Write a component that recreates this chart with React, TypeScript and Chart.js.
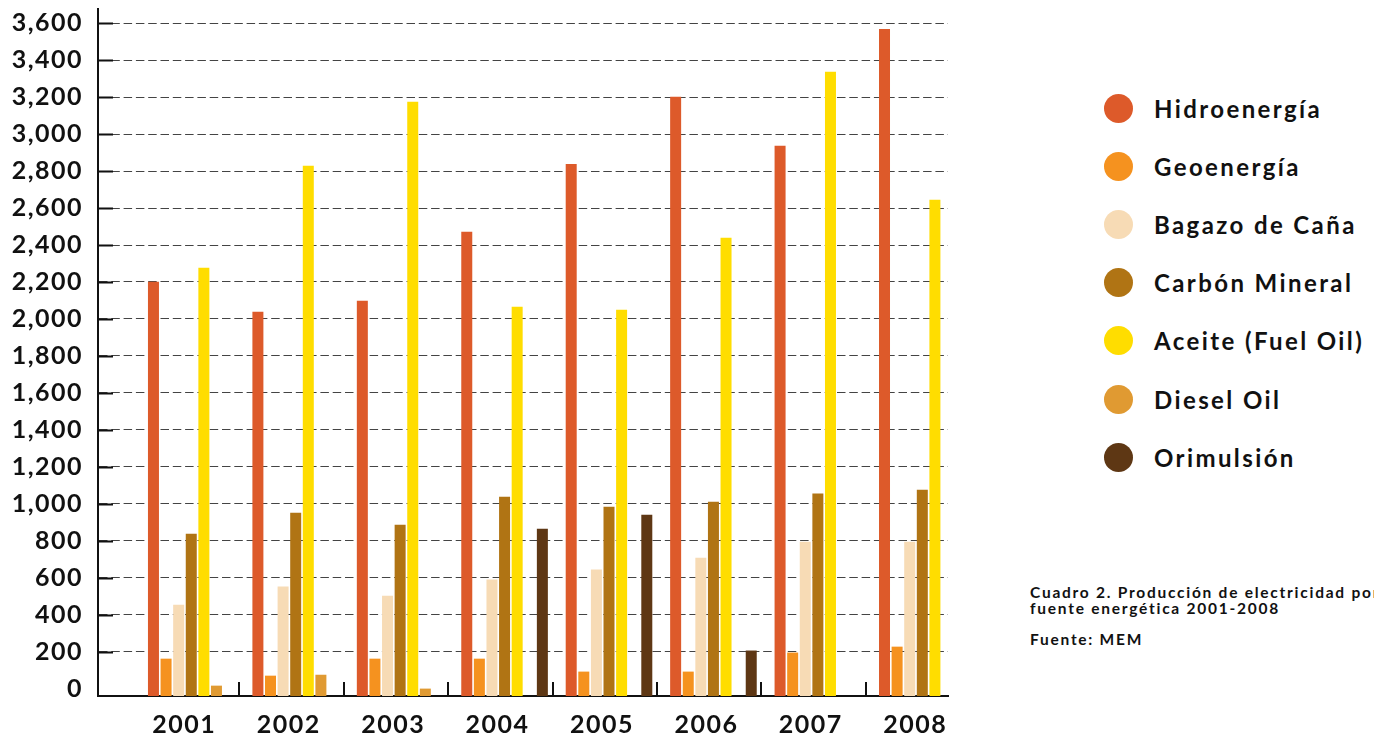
import React, { useEffect, useRef } from 'react';
import { Chart, registerables } from 'chart.js';

Chart.register(...registerables);

const years = [2001, 2002, 2003, 2004, 2005, 2006, 2007, 2008];

const seriesNames = [
  'Hidroenergía',
  'Geoenergía',
  'Bagazo de Caña',
  'Carbón Mineral',
  'Aceite (Fuel Oil)',
  'Diesel Oil',
  'Orimulsión',
];

const seriesColors = ['#DD5A2A', '#F5921F', '#F7DBB5', '#B07414', '#FFDD00', '#E09A32', '#5E3714'];

const hidroenergia = [2201, 2039, 2098, 2472, 2839, 3202, 2937, 3569];
const geoenergia = [162, 70, 162, 162, 92, 92, 195, 227];
const bagazo = [454, 552, 503, 590, 644, 708, 795, 795];
const carbon = [838, 952, 887, 1038, 984, 1011, 1055, 1076];
const aceite = [2277, 2829, 3175, 2066, 2050, 2439, 3337, 2645];
const diesel = [16, 75, 0, null, null, null, null, null];
const orimulsion = [null, null, null, 865, 941, 206, null, null];

const yTicks = [0, 200, 400, 600, 800, 1000, 1200, 1400, 1600, 1800, 2000, 2200, 2400, 2600, 2800, 3000, 3200, 3400, 3600];

const captionLines = ['Cuadro 2. Producción de electricidad por', 'fuente energética 2001-2008'];
const sourceText = 'Fuente: MEM';

const Y_MIN = -40;
const Y_MAX = 3677;
const X_MIN = 2000.107;
const X_MAX = 2008.246;

export default function App() {
  const canvasRef = useRef<HTMLCanvasElement | null>(null);

  useEffect(() => {
    if (!canvasRef.current) return;
    const seriesValues = [hidroenergia, geoenergia, bagazo, carbon, aceite, diesel, orimulsion];
    const datasets = seriesNames.map((name, k) => ({
      label: name,
      data: years.map((yr, i) => ({ x: yr, y: seriesValues[k][i] })),
      backgroundColor: seriesColors[k],
      borderWidth: 0,
      base: Y_MIN,
      barPercentage: 0.873,
      categoryPercentage: 0.8445,
    }));

    const spacing = {
      id: 'letterSpacing',
      beforeDraw(chart: any) {
        chart.ctx.letterSpacing = '1.5px';
      },
    };

    const tickMarks = {
      id: 'tickMarks',
      afterDatasetsDraw(chart: any) {
        const { ctx, chartArea, scales } = chart;
        ctx.save();
        ctx.strokeStyle = '#111';
        ctx.lineWidth = 2;
        ctx.beginPath();
        yTicks.forEach((v) => {
          if (v <= 0) return;
          const y = Math.round(scales.y.getPixelForValue(v)) + 0.5;
          ctx.moveTo(chartArea.left, y);
          ctx.lineTo(chartArea.left + 15, y);
        });
        years.slice(0, -1).forEach((yr) => {
          const x = Math.round(scales.x.getPixelForValue(yr + 0.46));
          ctx.moveTo(x, chartArea.bottom);
          ctx.lineTo(x, chartArea.bottom - 14);
        });
        ctx.stroke();
        ctx.restore();
      },
    };

    const tickFont = { family: 'Lato', size: 25, weight: 'bold' as any };

    const chart = new Chart(canvasRef.current, {
      type: 'bar',
      data: { datasets: datasets as any },
      options: {
        animation: false,
        responsive: true,
        maintainAspectRatio: false,
        layout: { padding: { top: 9, right: 12, left: 0, bottom: 0 } },
        plugins: { legend: { display: false }, tooltip: { enabled: false } },
        scales: {
          x: {
            type: 'linear',
            min: X_MIN,
            max: X_MAX,
            offset: false,
            grid: { display: false, drawTicks: false, offset: false },
            border: { display: true, color: '#111', width: 2 },
            afterBuildTicks: (s: any) => {
              s.ticks = years.map((v) => ({ value: v }));
            },
            afterFit: (s: any) => {
              s.height = 43;
              s.paddingLeft = 0;
              s.paddingRight = 0;
            },
            ticks: {
              autoSkip: false,
              maxRotation: 0,
              padding: 14,
              labelOffset: -7,
              color: '#111',
              font: tickFont,
              callback: (v: any) => String(v),
            },
          },
          y: {
            type: 'linear',
            min: Y_MIN,
            max: Y_MAX,
            grid: {
              drawTicks: false,
              lineWidth: 1,
              color: (c: any) => (c.tick && c.tick.value === 0 ? 'rgba(0,0,0,0)' : '#444'),
            },
            border: { display: true, color: '#111', width: 2, dash: [8.5, 3.8] },
            afterBuildTicks: (s: any) => {
              s.ticks = yTicks.map((v) => ({ value: v }));
            },
            afterFit: (s: any) => {
              s.width = 98;
              s.paddingTop = 0;
              s.paddingBottom = 0;
            },
            ticks: {
              padding: 15,
              color: '#111',
              font: tickFont,
              callback: (v: any) => Number(v).toLocaleString('en-US'),
            },
          },
        },
      },
      plugins: [spacing, tickMarks],
    });
    return () => chart.destroy();
  }, []);

  return (
    <div style={{ position: 'fixed', left: 0, top: 0, width: 1374, height: 739, overflow: 'hidden', background: '#fff' }}>
      <div style={{ position: 'absolute', left: 0, top: 0, width: 960, height: 739 }}>
        <canvas ref={canvasRef} />
      </div>
      {seriesNames.map((name, i) => (
        <div
          key={name}
          style={{
            position: 'absolute',
            left: 1104,
            top: 93.5 + 58.2 * i,
            height: 29,
            display: 'flex',
            alignItems: 'center',
            whiteSpace: 'nowrap',
          }}
        >
          <span style={{ width: 29, height: 29, borderRadius: '50%', background: seriesColors[i], flex: 'none' }} />
          <span style={{ marginLeft: 21, font: 'bold 24px Lato', letterSpacing: '2.4px', color: '#111' }}>{name}</span>
        </div>
      ))}
      <div
        style={{
          position: 'absolute',
          left: 1030,
          top: 584,
          font: 'bold 15.5px Lato',
          lineHeight: '16px',
          letterSpacing: '1.75px',
          color: '#111',
          whiteSpace: 'nowrap',
        }}
      >
        {captionLines.map((l) => (
          <div key={l}>{l}</div>
        ))}
        <div style={{ marginTop: 15 }}>{sourceText}</div>
      </div>
    </div>
  );
}
